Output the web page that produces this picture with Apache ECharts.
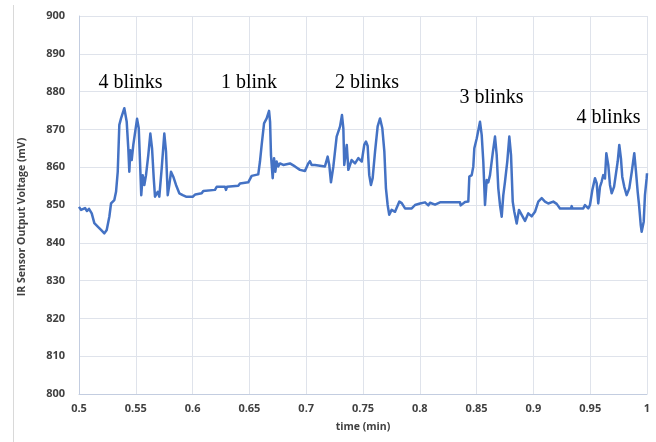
<!DOCTYPE html>
<html>
<head>
<meta charset="utf-8">
<script src="https://cdn.jsdelivr.net/npm/echarts@6/dist/echarts.min.js"></script>
<style>
  html, body { margin: 0; padding: 0; background: #ffffff; }
  #chart { width: 656px; height: 442px; }
</style>
</head>
<body>
<div id="chart"></div>
<script>
// Sample times (min) of the IR sensor trace
const timeMin = [
  0.5000, 0.5018, 0.5035, 0.5053, 0.5070, 0.5088, 0.5112, 0.5135, 0.5165, 0.5194,
  0.5223, 0.5244, 0.5267, 0.5282, 0.5311, 0.5326, 0.5341, 0.5355, 0.5370, 0.5399,
  0.5420, 0.5434, 0.5443, 0.5452, 0.5464, 0.5478, 0.5511, 0.5526, 0.5537, 0.5548,
  0.5561, 0.5575, 0.5590, 0.5610, 0.5628, 0.5643, 0.5658, 0.5669, 0.5693, 0.5707,
  0.5728, 0.5751, 0.5766, 0.5781, 0.5795, 0.5810, 0.5830, 0.5854, 0.5883, 0.5913,
  0.5942, 0.6001, 0.6006, 0.6024, 0.6080, 0.6094, 0.6197, 0.6212, 0.6285, 0.6294,
  0.6303, 0.6402, 0.6417, 0.6490, 0.6520, 0.6578, 0.6593, 0.6608, 0.6629, 0.6652,
  0.6673, 0.6682, 0.6690, 0.6705, 0.6717, 0.6728, 0.6740, 0.6754, 0.6769, 0.6798,
  0.6857, 0.6901, 0.6945, 0.6989, 0.7018, 0.7033, 0.7048, 0.7077, 0.7165, 0.7189,
  0.7203, 0.7218, 0.7239, 0.7268, 0.7298, 0.7315, 0.7327, 0.7335, 0.7357, 0.7371,
  0.7400, 0.7430, 0.7459, 0.7489, 0.7511, 0.7526, 0.7541, 0.7555, 0.7570, 0.7585,
  0.7606, 0.7629, 0.7650, 0.7670, 0.7688, 0.7702, 0.7717, 0.7731, 0.7752, 0.7782,
  0.7820, 0.7841, 0.7870, 0.7929, 0.7958, 0.8002, 0.8046, 0.8061, 0.8075, 0.8090,
  0.8134, 0.8178, 0.8266, 0.8354, 0.8360, 0.8398, 0.8427, 0.8436, 0.8457, 0.8471,
  0.8480, 0.8501, 0.8530, 0.8545, 0.8559, 0.8574, 0.8589, 0.8603, 0.8618, 0.8642,
  0.8662, 0.8677, 0.8691, 0.8706, 0.8721, 0.8735, 0.8750, 0.8770, 0.8788, 0.8803,
  0.8818, 0.8832, 0.8853, 0.8873, 0.8897, 0.8926, 0.8955, 0.8985, 0.9014, 0.9043,
  0.9073, 0.9102, 0.9131, 0.9175, 0.9205, 0.9234, 0.9331, 0.9337, 0.9344, 0.9439,
  0.9454, 0.9483, 0.9498, 0.9519, 0.9542, 0.9557, 0.9571, 0.9586, 0.9601, 0.9615,
  0.9630, 0.9642, 0.9659, 0.9674, 0.9689, 0.9710, 0.9727, 0.9742, 0.9756, 0.9771,
  0.9782, 0.9800, 0.9821, 0.9844, 0.9866, 0.9888, 0.9903, 0.9918, 0.9930, 0.9945,
  0.9953, 0.9971, 0.9982, 0.9997, 1.0000
];

// IR sensor output voltage (mV) at each sample time
const voltageMv = [
  849.5, 848.7, 848.3, 849.2, 848.4, 849.0, 847.8, 845.2, 844.3, 843.4,
  842.5, 843.4, 846.9, 850.4, 851.3, 853.5, 858.8, 871.2, 872.9, 875.6,
  872.0, 865.0, 858.8, 864.5, 861.9, 865.9, 872.8, 870.3, 861.5, 852.6,
  857.9, 855.3, 857.9, 863.2, 868.9, 865.0, 857.0, 852.2, 853.5, 852.2,
  859.7, 868.9, 864.1, 852.6, 855.3, 858.8, 857.5, 855.3, 853.1, 852.6,
  852.2, 852.2, 852.6, 852.8, 853.1, 853.7, 854.0, 854.8, 854.8, 854.0,
  854.8, 855.1, 855.7, 856.0, 857.7, 858.1, 861.5, 865.9, 871.6, 872.9,
  874.9, 872.0, 863.2, 857.1, 862.4, 858.8, 861.5, 860.2, 861.0, 860.6,
  861.0, 860.2, 859.3, 859.0, 861.0, 861.6, 860.6, 860.6, 860.2, 862.8,
  860.6, 856.0, 860.2, 868.1, 870.8, 873.8, 870.3, 860.6, 865.9, 859.3,
  861.9, 861.0, 862.4, 861.5, 865.9, 866.8, 865.6, 857.9, 855.3, 857.1,
  864.1, 870.8, 872.9, 870.3, 864.1, 854.4, 850.0, 847.4, 848.7, 848.2,
  850.9, 850.5, 849.1, 849.1, 850.0, 850.4, 850.7, 850.4, 849.9, 850.6,
  850.1, 850.7, 850.7, 850.7, 849.9, 850.8, 850.9, 857.5, 857.9, 860.2,
  865.0, 867.6, 872.0, 868.5, 861.5, 850.0, 856.6, 856.0, 857.9, 863.7,
  868.1, 863.2, 854.4, 850.0, 846.9, 852.6, 856.2, 861.5, 868.1, 863.2,
  850.9, 848.2, 845.1, 848.7, 847.4, 845.8, 847.8, 847.0, 848.2, 850.9,
  851.8, 850.9, 850.4, 850.9, 850.3, 849.1, 849.1, 849.7, 849.1, 849.1,
  850.0, 849.1, 850.0, 854.0, 857.1, 855.8, 850.4, 854.8, 856.2, 857.9,
  857.0, 863.7, 860.6, 855.3, 853.1, 854.8, 854.8, 861.5, 865.9, 862.2,
  857.5, 854.8, 852.6, 854.4, 858.8, 863.7, 858.8, 853.5, 850.0, 844.7,
  842.9, 845.6, 852.6, 857.1, 858.4
];

// Axis tick values
const xTicks = { min: 0.5, max: 1, step: 0.05 };
const yTicks = { min: 800, max: 900, step: 10 };

// Blink-count notes, placed in data space
const noteText = ['4 blinks', '1 blink', '2 blinks', '3 blinks', '4 blinks'];
const noteTime = [0.5453, 0.6496, 0.7535, 0.8631, 0.9661];
const noteMv   = [882.3, 882.3, 882.3, 878.4, 873.0];

const seriesData = timeMin.map((t, i) => [t, voltageMv[i]]);

const chart = echarts.init(document.getElementById('chart'), null, { renderer: 'canvas' });

const uiFamily = '"Open Sans", "Noto Sans", sans-serif';
const tickFont = {
  color: '#404040',
  fontFamily: uiFamily,
  fontWeight: 700,
  fontSize: 11
};

chart.setOption({
  animation: false,
  backgroundColor: '#ffffff',
  grid: { left: 79, right: 9, top: 16, bottom: 48, containLabel: false },
  xAxis: {
    type: 'value',
    min: xTicks.min,
    max: xTicks.max,
    interval: xTicks.step,
    name: 'time (min)',
    nameLocation: 'middle',
    nameGap: 28,
    nameTextStyle: Object.assign({}, tickFont, { fontSize: 10.5 }),
    axisLine: { show: true, lineStyle: { color: '#c3cde0', width: 1 } },
    axisTick: { show: false },
    axisLabel: Object.assign({ margin: 9 }, tickFont),
    splitLine: { show: true, lineStyle: { color: '#dfe3eb', width: 1 } }
  },
  yAxis: {
    type: 'value',
    min: yTicks.min,
    max: yTicks.max,
    interval: yTicks.step,
    axisLine: { show: true, lineStyle: { color: '#c3cde0', width: 1 } },
    axisTick: { show: false },
    axisLabel: Object.assign({ margin: 14 }, tickFont),
    splitLine: { show: true, lineStyle: { color: '#dfe3eb', width: 1 } }
  },
  series: [{
    type: 'line',
    data: seriesData,
    showSymbol: false,
    symbol: 'none',
    smooth: false,
    lineStyle: { color: '#4472c4', width: 2.5, join: 'round' },
    z: 3
  }]
});

// Axis title, the frame edge and the blink notes
const notes = noteText.map((txt, i) => {
  const p = chart.convertToPixel({ gridIndex: 0 }, [noteTime[i], noteMv[i]]);
  return {
    type: 'text',
    x: p[0],
    y: p[1],
    style: {
      text: txt,
      fill: '#000000',
      font: '20px "Liberation Serif", "Times New Roman", serif',
      textAlign: 'center',
      textVerticalAlign: 'middle'
    },
    z: 10
  };
});

chart.setOption({
  graphic: [
    {
      type: 'line',
      shape: { x1: 13.5, y1: 5, x2: 13.5, y2: 442 },
      style: { stroke: '#d9d9d9', lineWidth: 1 }
    },
    {
      type: 'text',
      x: 22,
      y: 217,
      rotation: Math.PI / 2,
      style: {
        text: 'IR Sensor Output Voltage (mV)',
        fill: '#404040',
        font: 'bold 10.5px ' + uiFamily,
        textAlign: 'center',
        textVerticalAlign: 'middle'
      }
    }
  ].concat(notes)
});
</script>
</body>
</html>
